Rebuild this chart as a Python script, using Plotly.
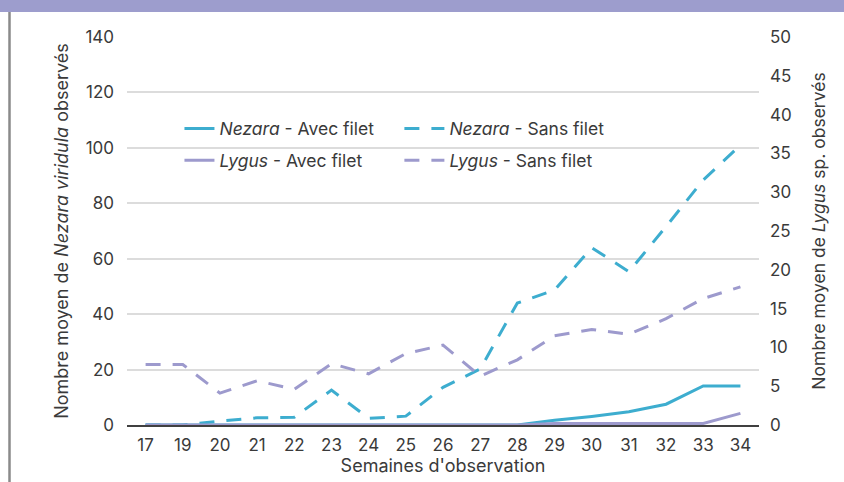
import plotly.graph_objects as go

semaines = ["17", "19", "20", "21", "22", "23", "24", "25", "26",
            "27", "28", "29", "30", "31", "32", "33", "34"]

nezara_avec = [0, 0, 0, 0, 0, 0, 0, 0, 0, 0, 0, 1.7, 3.1, 4.8, 7.5, 14.1, 14.1]
nezara_sans = [0, 0, 1.4, 2.6, 2.8, 12.6, 2.4, 3.2, 13.6, 20.2, 44, 48.7, 64, 55.3, 71.6, 88.4, 101]
lygus_avec = [0, 0, 0, 0, 0, 0, 0, 0, 0, 0, 0, 0.2, 0.2, 0.2, 0.2, 0.2, 1.5]
lygus_sans = [7.8, 7.8, 4.1, 5.7, 4.6, 7.9, 6.6, 9.2, 10.3, 6.3, 8.4, 11.5, 12.3, 11.7, 13.7, 16.3, 17.8]

BLUE = "#3dadcf"
LILAC = "#9d9acd"
TXT = "#3a3a3a"
FONT = "Inter"
DASH = "15px,12px"

fig = go.Figure()

fig.add_trace(go.Scatter(x=semaines, y=nezara_avec, mode="lines",
                         name="<i>Nezara</i> - Avec filet", legend="legend", legendgroup="a",
                         line=dict(color=BLUE, width=3)))
fig.add_trace(go.Scatter(x=semaines, y=lygus_avec, mode="lines", yaxis="y2",
                         name="<i>Lygus</i> - Avec filet", legend="legend", legendgroup="b",
                         line=dict(color=LILAC, width=3)))
fig.add_trace(go.Scatter(x=semaines, y=nezara_sans, mode="lines",
                         name="<i>Nezara</i> - Sans filet", legend="legend2", legendgroup="c",
                         line=dict(color=BLUE, width=3, dash=DASH)))
fig.add_trace(go.Scatter(x=semaines, y=lygus_sans, mode="lines", yaxis="y2",
                         name="<i>Lygus</i> - Sans filet", legend="legend2", legendgroup="d",
                         line=dict(color=LILAC, width=3, dash=DASH)))

legend_style = dict(bgcolor="rgba(0,0,0,0)", font=dict(family=FONT, size=17.5, color=TXT),
                    xanchor="left", yanchor="top", tracegroupgap=6)

fig.update_layout(
    width=844, height=482,
    margin=dict(l=127, r=85, t=37, b=57),
    paper_bgcolor="white", plot_bgcolor="white",
    font=dict(family=FONT, size=17, color=TXT),
    legend=dict(x=0.083, y=0.81, itemwidth=30, **legend_style),
    legend2=dict(x=0.431, y=0.81, itemwidth=40, **legend_style),
    xaxis=dict(
        type="category", range=[-0.5, 16.5], showgrid=False, showline=True,
        linecolor="#404040", linewidth=1.5, automargin=False,
        tickfont=dict(size=17), ticks="", ticklabelstandoff=4,
        title=dict(text="Semaines d'observation", font=dict(size=18), standoff=4),
    ),
    yaxis=dict(
        range=[0, 140], dtick=20, showgrid=True, gridcolor="#dcdcdc", gridwidth=1.5,
        zeroline=False, tickfont=dict(size=17), ticklabelstandoff=12,
        title=dict(text="Nombre moyen de <i>Nezara viridula</i> observés", font=dict(size=18), standoff=12),
    ),
    yaxis2=dict(
        range=[0, 50], dtick=5, overlaying="y", side="right", showgrid=False,
        zeroline=False, tickfont=dict(size=17), ticklabelstandoff=10,
        title=dict(text="Nombre moyen de <i>Lygus</i> sp. observés", font=dict(size=17.5), standoff=22),
    ),
    shapes=[
        # bandeau du haut
        dict(type="rect", xref="paper", yref="paper", x0=-0.25, x1=1.2,
             y0=(425 - 12) / 388, y1=(425 + 5) / 388,
             fillcolor="#9d9dcd", line=dict(width=0), layer="below"),
        # bordure gauche
        dict(type="line", xref="paper", yref="paper",
             x0=(9.5 - 127) / 632, x1=(9.5 - 127) / 632,
             y0=(425 - 482) / 388, y1=(425 - 12) / 388,
             line=dict(color="#8a8a8a", width=2.5), layer="below"),
    ],
)

fig.write_html("out.html", config={"displayModeBar": False},
               post_script="document.body.style.margin='0';")
